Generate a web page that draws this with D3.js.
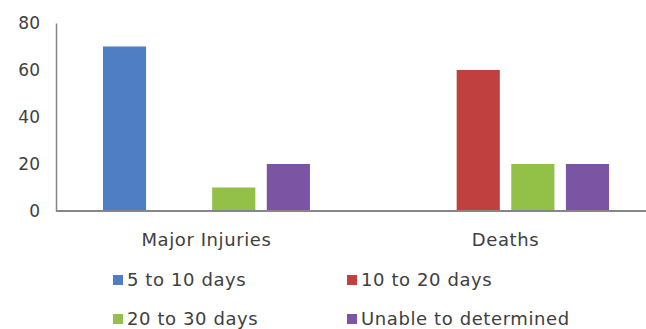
<!DOCTYPE html>
<html><head><meta charset="utf-8">
<script src="https://cdn.jsdelivr.net/npm/d3@7"></script>
<style>body{margin:0;background:#fff}svg{display:block}text{font-family:"Century Gothic","DejaVu Sans",sans-serif;fill:#404040}</style>
</head><body><svg id="c" width="646" height="329"></svg>
<script>
const categories = ["Major Injuries", "Deaths"];
const seriesNames = ["5 to 10 days", "10 to 20 days", "20 to 30 days", "Unable to determined"];
const seriesColors = ["#4f7ec4", "#c0403f", "#93c047", "#7b55a3"];
const values5to10 = [70, 0];
const values10to20 = [0, 60];
const values20to30 = [10, 20];
const valuesUnable = [20, 20];
const yTicks = [0, 20, 40, 60, 80];

const seriesValues = [values5to10, values10to20, values20to30, valuesUnable];
const svg = d3.select("#c");
const fs = 18;

const y = d3.scaleLinear().domain([0, 80]).range([211, 23]);
const x0 = d3.scaleBand().domain(categories).range([56, 656]).paddingInner(0.308).paddingOuter(0.157);
const x1 = d3.scaleBand().domain(seriesNames).range([0, x0.bandwidth()]).paddingInner(0.21).paddingOuter(0);

categories.forEach((c, ci) => {
  seriesNames.forEach((s, si) => {
    const v = seriesValues[si][ci];
    if (v <= 0) return;
    svg.append("rect")
      .attr("x", x0(c) + x1(s))
      .attr("y", y(v))
      .attr("width", x1.bandwidth())
      .attr("height", y(0) - y(v))
      .attr("fill", seriesColors[si]);
  });
});

const ya = svg.append("g").attr("transform", "translate(56,0)")
  .call(d3.axisLeft(y).tickValues(yTicks).tickSize(0).tickPadding(16));
ya.select(".domain").attr("stroke", "#868686").attr("stroke-width", 1.5);
ya.selectAll("text").style("font-size", "17px").attr("fill", "#404040")
  .style("font-family", null);

svg.append("line").attr("x1", 56).attr("x2", 646).attr("y1", y(0)).attr("y2", y(0))
  .attr("stroke", "#868686").attr("stroke-width", 2);
svg.selectAll(".cat").data(categories).enter().append("text")
  .attr("x", d => x0(d) + x0.bandwidth() / 2)
  .attr("y", 240).attr("dy", "0.35em")
  .attr("text-anchor", "middle").style("font-size", fs + "px").style("letter-spacing", "0.6px").text(d => d);

const legX = [113, 347];
const legY = [280, 319];
seriesNames.forEach((s, i) => {
  const lx = legX[i % 2], ly = legY[Math.floor(i / 2)];
  svg.append("rect").attr("x", lx).attr("y", ly - 5).attr("width", 10).attr("height", 10).attr("fill", seriesColors[i]);
  svg.append("text").attr("x", lx + 14).attr("y", ly).attr("dy", "0.35em")
    .style("font-size", fs + "px").style("letter-spacing", "0.6px").text(s);
});
</script></body></html>
